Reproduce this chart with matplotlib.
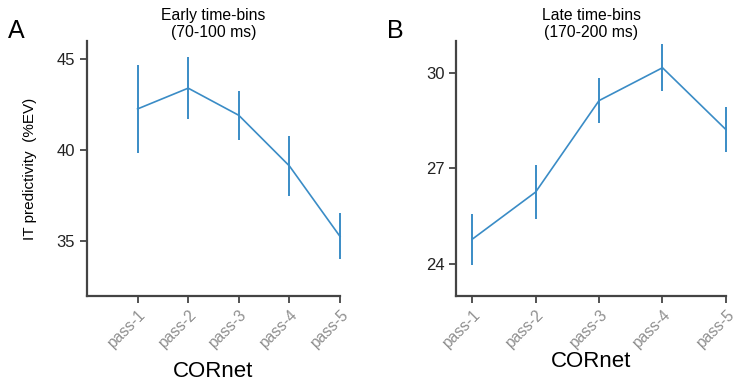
import numpy as np
import matplotlib.pyplot as plt

plt.rcParams['font.family'] = ['Liberation Sans', 'DejaVu Sans']

passes = ['pass-1', 'pass-2', 'pass-3', 'pass-4', 'pass-5']

early_mean = [42.27, 43.41, 41.92, 39.14, 35.27]
early_err = [2.40, 1.70, 1.35, 1.66, 1.26]

late_mean = [24.78, 26.26, 29.13, 30.16, 28.22]
late_err = [0.80, 0.86, 0.71, 0.73, 0.71]

blue = '#3a8cc6'
spine_col = '#444444'

fig = plt.figure(figsize=(7.34, 3.83), dpi=100)
axA = fig.add_axes([0.1185, 0.2272, 0.3447, 0.6658])
axB = fig.add_axes([0.6217, 0.2272, 0.3673, 0.6658])


def style(ax, mean, err, title, xlim, ylim, yticks, xpad):
    x = np.arange(len(passes))
    ax.errorbar(x, mean, yerr=err, color=blue, lw=1.2, elinewidth=1.4,
                capsize=0, clip_on=False)
    ax.set_xlim(*xlim)
    ax.set_ylim(*ylim)
    ax.set_yticks(yticks)
    ax.set_xticks(x)
    for s in ['top', 'right']:
        ax.spines[s].set_visible(False)
    for s in ['left', 'bottom']:
        ax.spines[s].set_color(spine_col)
        ax.spines[s].set_linewidth(1.6)
    ax.tick_params(direction='out', length=5, width=1.3, color=spine_col)
    ax.tick_params(axis='y', labelsize=12, labelcolor='#222222')
    ax.set_xticklabels(passes, rotation=45, ha='right', rotation_mode='anchor',
                       color='#8f8f8f', fontsize=11.2)
    ax.set_xlabel('CORnet', fontsize=16, labelpad=xpad)
    ax.set_title(title, fontsize=11.3, pad=3, linespacing=1.15)


style(axA, early_mean, early_err, 'Early time-bins\n(70-100 ms)',
      (-1, 4), (32, 46), [35, 40, 45], 7)
style(axB, late_mean, late_err, 'Late time-bins\n(170-200 ms)',
      (-0.25, 4), (23, 31), [24, 27, 30], 0)

axA.set_ylabel('IT predictivity  (%EV)', fontsize=11, labelpad=14)

fig.text(0.011, 0.90, 'A', fontsize=18)
fig.text(0.527, 0.90, 'B', fontsize=18)

fig.savefig('out.png', dpi=100)
